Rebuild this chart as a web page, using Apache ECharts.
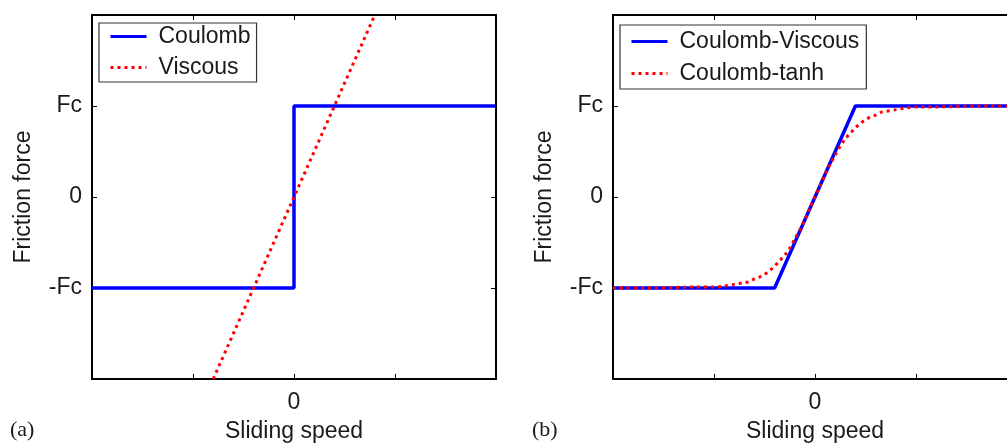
<!DOCTYPE html>
<html>
<head>
<meta charset="utf-8">
<script src="https://cdn.jsdelivr.net/npm/echarts@6/dist/echarts.min.js"></script>
<style>
  html, body { margin: 0; padding: 0; background: #fff; }
  #chart { width: 1007px; height: 447px; }
</style>
</head>
<body>
<div id="chart"></div>
<script>
// Y tick positions (in units of Fc) and their labels
const yTickValues = [-1, 0, 1];
const yTickText = ['-Fc', '0', 'Fc'];
// X tick labels: only the origin is labelled
const xTickValues = [0];
const xTickText = ['0'];

// (a) ideal Coulomb friction and pure viscous friction
const coulomb = [[-2, -1], [0, -1], [0, 1], [2, 1]];
const viscous = [[-0.8, -2], [0.8, 2]];

// (b) Coulomb with a viscous ramp, and the smooth tanh approximation
const coulombViscous = [[-2, -1], [-0.4, -1], [0.4, 1], [2, 1]];
const coulombTanh = [
  [-2, -1], [-1.6, -1], [-1.2, -0.99], [-1.0, -0.99], [-0.9, -0.98], [-0.8, -0.96],
  [-0.7, -0.94], [-0.65, -0.93], [-0.6, -0.9], [-0.55, -0.88], [-0.5, -0.85],
  [-0.45, -0.81], [-0.4, -0.76], [-0.35, -0.7], [-0.3, -0.64], [-0.25, -0.56],
  [-0.2, -0.46], [-0.15, -0.36], [-0.1, -0.25], [-0.05, -0.12], [0, 0],
  [0.05, 0.12], [0.1, 0.25], [0.15, 0.36], [0.2, 0.46], [0.25, 0.56], [0.3, 0.64],
  [0.35, 0.7], [0.4, 0.76], [0.45, 0.81], [0.5, 0.85], [0.55, 0.88], [0.6, 0.9],
  [0.65, 0.93], [0.7, 0.94], [0.8, 0.96], [0.9, 0.98], [1.0, 0.99], [1.2, 0.99],
  [1.6, 1], [2, 1]
];

const FONT = '"Liberation Sans", Arial, Helvetica, sans-serif';
const TEXT = '#1a1a1a';
const BLUE = '#0000ff';
const RED = '#ff0000';

function labelFor(values, texts) {
  return v => {
    const i = values.indexOf(Math.round(v * 1000) / 1000);
    return i >= 0 ? texts[i] : '';
  };
}

const lineAxis = { show: true, onZero: false, lineStyle: { color: '#000', width: 2 } };
const tickStyle = { show: true, inside: true, length: 5, lineStyle: { color: '#000', width: 1 } };

function xAxes(gridIndex) {
  return [
    {
      type: 'value', gridIndex, position: 'bottom', min: -2, max: 2, interval: 1,
      axisLine: lineAxis, axisTick: tickStyle, splitLine: { show: false },
      axisLabel: { margin: 12, fontSize: 23, color: TEXT, fontFamily: FONT,
                   formatter: labelFor(xTickValues, xTickText) },
      name: 'Sliding speed', nameLocation: 'middle', nameGap: 41,
      nameTextStyle: { fontSize: 23, color: TEXT, fontFamily: FONT }
    },
    {
      type: 'value', gridIndex, position: 'top', min: -2, max: 2, interval: 1,
      axisLine: lineAxis, axisTick: tickStyle, splitLine: { show: false },
      axisLabel: { show: false }
    }
  ];
}

function yAxes(gridIndex) {
  return [
    {
      type: 'value', gridIndex, position: 'left', min: -2, max: 2, interval: 1,
      axisLine: lineAxis, axisTick: tickStyle, splitLine: { show: false },
      axisLabel: { margin: 10, fontSize: 23, color: TEXT, fontFamily: FONT,
                   formatter: labelFor(yTickValues, yTickText) },
      name: 'Friction force', nameLocation: 'middle', nameGap: 57, nameRotate: 90,
      nameTextStyle: { fontSize: 23, color: TEXT, fontFamily: FONT }
    },
    {
      type: 'value', gridIndex, position: 'right', min: -2, max: 2, interval: 1,
      axisLine: lineAxis, axisTick: tickStyle, splitLine: { show: false },
      axisLabel: { show: false }
    }
  ];
}

function legend(names, left, top, padding, itemGap) {
  return {
    data: names, orient: 'vertical', left, top, padding, itemGap,
    itemWidth: 36, itemHeight: 14, selectedMode: false,
    itemStyle: { opacity: 0 },
    lineStyle: { width: 3 },
    backgroundColor: '#fff', borderColor: '#333', borderWidth: 1.2, borderRadius: 0,
    textStyle: { fontSize: 23, lineHeight: 23, color: TEXT, fontFamily: FONT, padding: [0, 0, 0, 7] }
  };
}

const solid = (color) => ({ color, width: 3.5, type: 'solid' });
const dotted = (color) => ({ color, width: 3, type: [3, 4], cap: 'butt' });

const option = {
  animation: false,
  backgroundColor: '#fff',
  grid: [
    { left: 92, top: 15, width: 404, height: 364, outerBoundsMode: 'none' },
    { left: 613, top: 15, width: 404, height: 364, outerBoundsMode: 'none' }
  ],
  xAxis: [...xAxes(0), ...xAxes(1)],
  yAxis: [...yAxes(0), ...yAxes(1)],
  legend: [
    legend(['Coulomb', 'Viscous'], 99, 23, [2, 6, 3, 10], 8),
    legend(['Coulomb-Viscous', 'Coulomb-tanh'], 620, 25, [5, 7, 4, 10], 9)
  ],
  series: [
    { name: 'Coulomb', type: 'line', xAxisIndex: 0, yAxisIndex: 0, data: coulomb,
      symbol: 'none', lineStyle: solid(BLUE), itemStyle: { color: BLUE }, z: 2 },
    { name: 'Viscous', type: 'line', xAxisIndex: 0, yAxisIndex: 0, data: viscous,
      symbol: 'none', lineStyle: dotted(RED), itemStyle: { color: RED }, z: 3 },
    { name: 'Coulomb-Viscous', type: 'line', xAxisIndex: 2, yAxisIndex: 2, data: coulombViscous,
      symbol: 'none', lineStyle: solid(BLUE), itemStyle: { color: BLUE }, z: 2 },
    { name: 'Coulomb-tanh', type: 'line', xAxisIndex: 2, yAxisIndex: 2, data: coulombTanh,
      symbol: 'none', smooth: 0.3, lineStyle: dotted(RED), itemStyle: { color: RED }, z: 3 }
  ],
  graphic: [
    { type: 'text', left: 10, top: 419,
      style: { text: '(a)', fontSize: 22, fontFamily: '"Liberation Serif", "Times New Roman", serif', fill: TEXT } },
    { type: 'text', left: 532, top: 419,
      style: { text: '(b)', fontSize: 22, fontFamily: '"Liberation Serif", "Times New Roman", serif', fill: TEXT } }
  ]
};

const chart = echarts.init(document.getElementById('chart'), null, { renderer: 'canvas' });
chart.setOption(option);
</script>
</body>
</html>
